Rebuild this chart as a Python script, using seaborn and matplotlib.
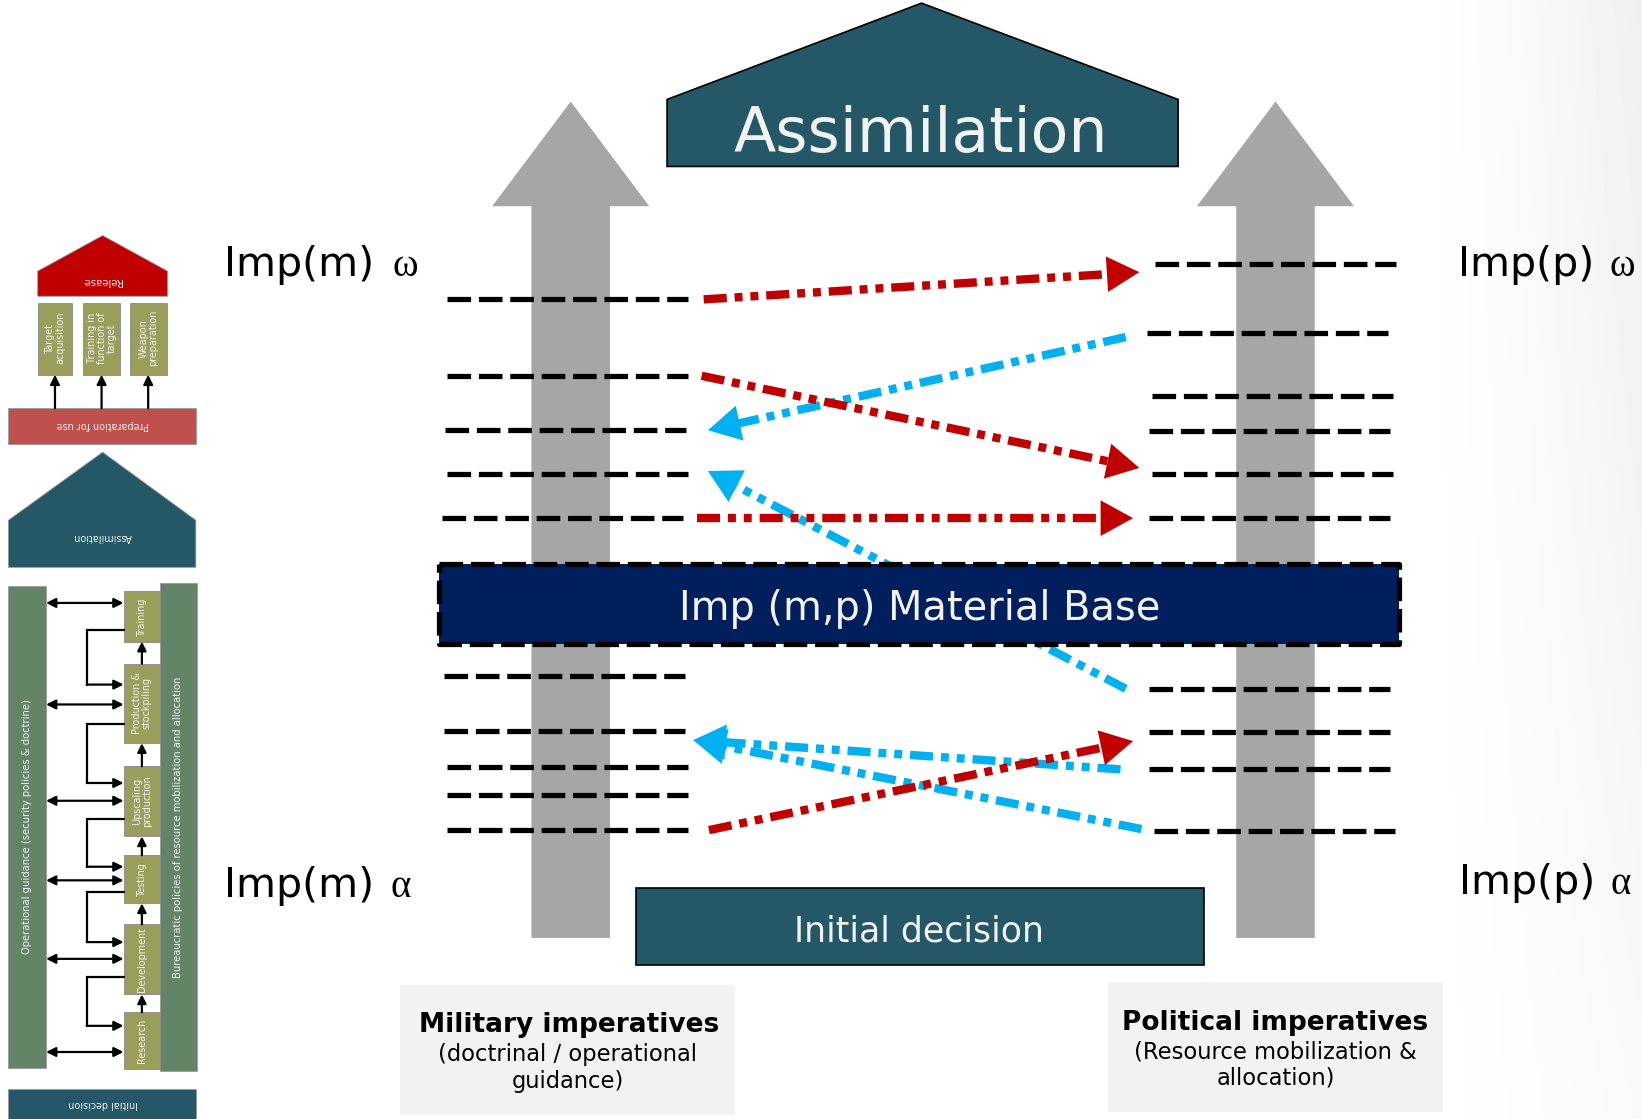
import numpy as np
import matplotlib
matplotlib.use("Agg")
import matplotlib.pyplot as plt
import seaborn as sns
from matplotlib.patches import Polygon, Rectangle

# ---------------- data ----------------
left_levels = [286, 359, 411, 453, 495, 646, 698, 733, 759, 793]
left_x0 = [427, 427, 425, 427, 422, 424, 424, 427, 427, 427]
right_levels = [252, 318, 378, 412, 453, 495, 658, 699, 735, 794]
right_x0 = [1103, 1095, 1100, 1097, 1100, 1097, 1097, 1097, 1097, 1102]

red_start_x = [672, 670, 666, 677]
red_start_y = [286, 359, 495, 793]
red_end_x = [1088, 1088, 1082, 1082]
red_end_y = [260, 447, 495, 708]

blue_start_x = [1075, 1075, 1070, 1090]
blue_start_y = [322, 658, 735, 792]
blue_end_x = [676, 676, 662, 662]
blue_end_y = [411, 450, 707, 707]

stage_labels = ["Training", "Production &\nstockpiling", "Upscaling\nproduction",
                "Testing", "Development", "Research"]
stage_top = [565, 634, 732, 817, 883, 967]
stage_bottom = [613, 710, 799, 863, 950, 1021]
guidance_arrow_y = [576, 673, 765, 841, 916, 1005]
feedback_from_y = [602, 692, 782, 852, 933]
feedback_to_y = [654, 748, 828, 900, 980]

prep_labels = ["Target\nacquisition", "Training in\nfunction of\ntarget", "Weapon\npreparation"]
prep_x0 = [36, 79, 124]
prep_x1 = [69, 115, 159]

imp_labels = ['Imp(m)', 'Imp(p)', 'Imp(m)', 'Imp(p)']
imp_greek = ['ω', 'ω', 'α', 'α']

# ---------------- style ----------------
sns.set_theme(style="white")
plt.rcParams['font.family'] = ['DejaVu Sans']
plt.rcParams['lines.scale_dashes'] = False

W, H = 1568, 1069
PT = 0.754  # points per display pixel
fig = plt.figure(figsize=(16.42, 11.19), dpi=100)
ax = fig.add_axes([0, 0, 1, 1])
ax.set_xlim(0, W)
ax.set_ylim(H, 0)
ax.axis('off')

# background gradient
gx = np.linspace(0, 1, 400)
gy = np.linspace(0, 1, 300)
X, Y = np.meshgrid(gx, gy)
shade = 0.06 * np.clip((X - 0.86) / 0.14, 0, 1) ** 1.3 * (1 - 0.6 * Y)
ax.imshow(1 - shade, cmap='gray', vmin=0, vmax=1, extent=(0, W, H, 0),
          aspect='auto', zorder=0, interpolation='bilinear')

TEAL = '#255866'
NAVY = '#001f5c'
GRAY = '#a6a6a6'
RED = '#c00000'
BLUE = '#00b0f0'
OLIVE = '#9a9e5b'
GREEN = '#648468'
TXT = '#f2f2f2'

BLACK_DASH = (0, (17.0, 5.6))
DDOT = (0, (16.6, 5.7, 5.7, 5.7, 5.7, 5.7))


def up_arrow(cx, tip, head_base, bottom, shaft_w=75, head_w=150):
    pts = [(cx - shaft_w / 2, bottom), (cx - shaft_w / 2, head_base),
           (cx - head_w / 2, head_base), (cx, tip), (cx + head_w / 2, head_base),
           (cx + shaft_w / 2, head_base), (cx + shaft_w / 2, bottom)]
    ax.add_patch(Polygon(pts, closed=True, facecolor=GRAY, edgecolor='none', zorder=1))


def dash_arrow(x0, y0, x1, y1, color, z=5):
    d = np.array([x1 - x0, y1 - y0], dtype=float)
    L = np.hypot(*d)
    u = d / L
    n = np.array([-u[1], u[0]])
    hl, hw = 31, 34
    tip = np.array([x1, y1], dtype=float)
    base = tip - u * hl
    end = base + u * 4
    ax.plot([x0, end[0]], [y0, end[1]], color=color, lw=8 * PT, linestyle=DDOT,
            dash_capstyle='butt', zorder=z)
    tri = np.array([tip, base + n * hw / 2, base - n * hw / 2])
    ax.add_patch(Polygon(tri, closed=True, facecolor=color, edgecolor='none', zorder=z))


# ---------------- main diagram ----------------
up_arrow(545, 97, 197, 896)
up_arrow(1218, 97, 197, 896)

house = [(637, 159), (637, 95), (880, 3), (1125, 95), (1125, 159)]
ax.add_patch(Polygon(house, closed=True, facecolor=TEAL, edgecolor='black', lw=1.2, zorder=3))
ax.text(879, 145, 'Assimilation', fontsize=44.5, color=TXT, ha='center', va='baseline', zorder=4)

ax.add_patch(Rectangle((607, 848), 543, 74, facecolor=TEAL, edgecolor='black', lw=1.2, zorder=3))
ax.text(878, 899, 'Initial decision', fontsize=25, color=TXT, ha='center', va='baseline', zorder=4)

for y, x0 in zip(left_levels, left_x0):
    ax.plot([x0, x0 + 230], [y, y], color='black', lw=5 * PT, linestyle=BLACK_DASH,
            dash_capstyle='butt', zorder=2)
for y, x0 in zip(right_levels, right_x0):
    ax.plot([x0, x0 + 230], [y, y], color='black', lw=5 * PT, linestyle=BLACK_DASH,
            dash_capstyle='butt', zorder=2)

for xs, ys, xe, ye in zip(blue_start_x, blue_start_y, blue_end_x, blue_end_y):
    dash_arrow(xs, ys, xe, ye, BLUE, z=5)
for xs, ys, xe, ye in zip(red_start_x, red_start_y, red_end_x, red_end_y):
    dash_arrow(xs, ys, xe, ye, RED, z=6)

bx0, by0, bx1, by1 = 419, 538.5, 1336, 615
ax.add_patch(Rectangle((bx0, by0), bx1 - bx0, by1 - by0, facecolor=NAVY, edgecolor='none', zorder=7))
ax.plot([bx0, bx1, bx1, bx0, bx0], [by0, by0, by1, by1, by0], color='black', lw=5 * PT,
        linestyle=BLACK_DASH, dash_capstyle='butt', zorder=8)
ax.text(878, 592, 'Imp (m,p) Material Base', fontsize=28.7, color=TXT, ha='center',
        va='baseline', zorder=9)

# Imp labels
imp_pos = [(214, 264, 161), (1392, 264, 145), (214, 857, 159), (1393, 854, 145)]
for lab, greek, (x, y, off) in zip(imp_labels, imp_greek, imp_pos):
    ax.text(x, y, lab, fontsize=29.5, color='black', ha='left', va='baseline', zorder=4)
    ax.text(x + off, y, greek, fontsize=28, color='black', ha='left', va='baseline',
            family=['Liberation Serif', 'DejaVu Serif'], zorder=4)

# bottom description boxes
ax.add_patch(Rectangle((382, 941), 320, 124, facecolor='#f2f2f2', edgecolor='none', zorder=2))
ax.text(543, 986, 'Military imperatives', fontsize=19, fontweight='bold', color='black',
        ha='center', va='baseline', zorder=3)
ax.text(542, 1014, '(doctrinal / operational', fontsize=16.3, color='black', ha='center',
        va='baseline', zorder=3)
ax.text(542, 1039, 'guidance)', fontsize=16.3, color='black', ha='center', va='baseline', zorder=3)

ax.add_patch(Rectangle((1058, 938), 320, 124, facecolor='#f2f2f2', edgecolor='none', zorder=2))
ax.text(1218, 984, 'Political imperatives', fontsize=19, fontweight='bold', color='black',
        ha='center', va='baseline', zorder=3)
ax.text(1218, 1011, '(Resource mobilization &', fontsize=16.3, color='black', ha='center',
        va='baseline', zorder=3)
ax.text(1218, 1036, 'allocation)', fontsize=16.3, color='black', ha='center', va='baseline', zorder=3)

# ---------------- left panel ----------------
SF = 6.9
release = [(36, 283), (36, 259), (98, 225), (160, 259), (160, 283)]
ax.add_patch(Polygon(release, closed=True, facecolor=RED, edgecolor='#9a9a9a', lw=0.6, zorder=3))
ax.text(98, 268, 'Release', fontsize=7.3, color=TXT, ha='center', va='center', rotation=180, zorder=4)

for lab, x0, x1 in zip(prep_labels, prep_x0, prep_x1):
    ax.add_patch(Rectangle((x0, 289), x1 - x0, 69, facecolor=OLIVE, edgecolor='#8a8a8a', lw=0.6, zorder=3))
    ax.text((x0 + x1) / 2, 323, lab, fontsize=SF, color=TXT, ha='center', va='center',
            rotation=90, linespacing=1.0, zorder=4)
    xm = (x0 + x1) / 2
    ax.annotate('', xy=(xm, 358), xytext=(xm, 390),
                arrowprops=dict(arrowstyle='-|>', color='black', lw=1.6, mutation_scale=14,
                                shrinkA=0, shrinkB=0), zorder=4)

ax.add_patch(Rectangle((8, 390), 179, 34, facecolor='#c0504d', edgecolor='#9a9a9a', lw=0.6, zorder=3))
ax.text(98, 406, 'Preparation for use', fontsize=SF, color=TXT, ha='center', va='center',
        rotation=180, zorder=4)

assim = [(8, 542), (8, 497), (98, 432), (187, 497), (187, 542)]
ax.add_patch(Polygon(assim, closed=True, facecolor=TEAL, edgecolor='#9a9a9a', lw=0.6, zorder=3))
ax.text(98, 513, 'Assimilation', fontsize=SF, color=TXT, ha='center', va='center', rotation=180, zorder=4)

ax.add_patch(Rectangle((8, 560), 36, 460, facecolor=GREEN, edgecolor='#9a9a9a', lw=0.6, zorder=3))
ax.text(26, 790, 'Operational guidance (security policies & doctrine)', fontsize=7.2, color=TXT,
        ha='center', va='center', rotation=90, zorder=4)
ax.add_patch(Rectangle((153, 557), 35, 466, facecolor=GREEN, edgecolor='#9a9a9a', lw=0.6, zorder=3))
ax.text(170, 790, 'Bureaucratic policies of resource mobilization and allocation', fontsize=7.2,
        color=TXT, ha='center', va='center', rotation=90, zorder=4)

for lab, t, b in zip(stage_labels, stage_top, stage_bottom):
    ax.add_patch(Rectangle((118, t), 35, b - t, facecolor=OLIVE, edgecolor='#8a8a8a', lw=0.6, zorder=4))
    ax.text(135.5, (t + b) / 2, lab, fontsize=SF, color=TXT, ha='center', va='center',
            rotation=90, linespacing=1.0, zorder=5)

for y in guidance_arrow_y:
    ax.annotate('', xy=(118, y), xytext=(44, y),
                arrowprops=dict(arrowstyle='<|-|>', color='black', lw=1.6, mutation_scale=14,
                                shrinkA=0, shrinkB=0), zorder=4)

for yf, yt in zip(feedback_from_y, feedback_to_y):
    ax.plot([118, 83.5, 83.5], [yf, yf, yt], color='black', lw=1.6, zorder=4,
            solid_joinstyle='miter')
    ax.annotate('', xy=(118, yt), xytext=(82.8, yt),
                arrowprops=dict(arrowstyle='-|>', color='black', lw=1.6, mutation_scale=14,
                                shrinkA=0, shrinkB=0), zorder=4)

for up_t, low_b in zip(stage_top[1:], stage_bottom[:-1]):
    ax.annotate('', xy=(135.5, low_b), xytext=(135.5, up_t),
                arrowprops=dict(arrowstyle='-|>', color='black', lw=1.6, mutation_scale=13,
                                shrinkA=0, shrinkB=0), zorder=5)

ax.add_patch(Rectangle((8, 1040), 179, 32, facecolor=TEAL, edgecolor='#9a9a9a', lw=0.6, zorder=3))
ax.text(98, 1055, 'Initial decision', fontsize=SF, color=TXT, ha='center', va='center',
        rotation=180, zorder=4)

fig.savefig('out.png', dpi=100)
